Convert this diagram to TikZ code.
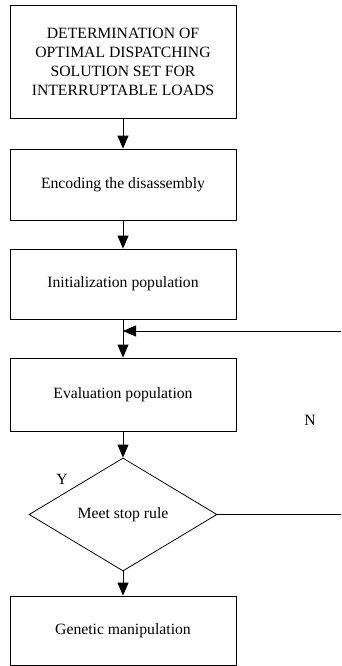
\documentclass[tikz,border=0pt]{standalone}
\usepackage{fontspec}
\setmainfont{Liberation Serif}
\usetikzlibrary{shapes.geometric,arrows.meta}
\begin{document}
\begin{tikzpicture}[x=1pt,y=-1pt,
  box/.style={draw,line width=0.8pt,minimum width=226pt,inner sep=0pt,align=center,font=\fontsize{15.7}{19}\selectfont},
  dia/.style={draw,line width=0.8pt,diamond,minimum width=188pt,minimum height=113pt,inner sep=0pt,font=\fontsize{15.7}{19}\selectfont},
  lbl/.style={font=\fontsize{15.7}{19}\selectfont,inner sep=0pt},
  arr/.style={line width=0.8pt,-{Triangle[length=13pt,width=11pt]}},
  ln/.style={line width=0.8pt}]
\useasboundingbox (0,0) rectangle (341,666);
\node[box,minimum height=113pt] (b1) at (123,61.5) {DETERMINATION OF\\OPTIMAL DISPATCHING\\SOLUTION SET FOR\\INTERRUPTABLE LOADS};
\node[box,minimum height=71pt] (b2) at (123,184.5) {Encoding the disassembly};
\node[box,minimum height=70pt] (b3) at (123,284) {Initialization population};
\node[box,minimum height=73pt] (b4) at (123,394.5) {Evaluation population};
\node[dia] (d) at (123,514.5) {Meet stop rule};
\node[box,minimum height=69pt] (b5) at (123,630.5) {Genetic manipulation};
\coordinate (j) at (123,331);
\coordinate (fin) at (341,331);
\coordinate (fout) at (341,514.5);
\node[lbl] (n) at (310,420) {N};
\node[lbl] (y) at (62,479) {Y};
\draw[arr] (b1) -- (b2);
\draw[arr] (b2) -- (b3);
\draw[arr] (b3) -- (b4);
\draw[arr] (fin) -- (j);
\draw[arr] (b4) -- (d);
\draw[arr] (d) -- (b5);
\draw[ln] (d.east) -- (fout);
\end{tikzpicture}
\end{document}
